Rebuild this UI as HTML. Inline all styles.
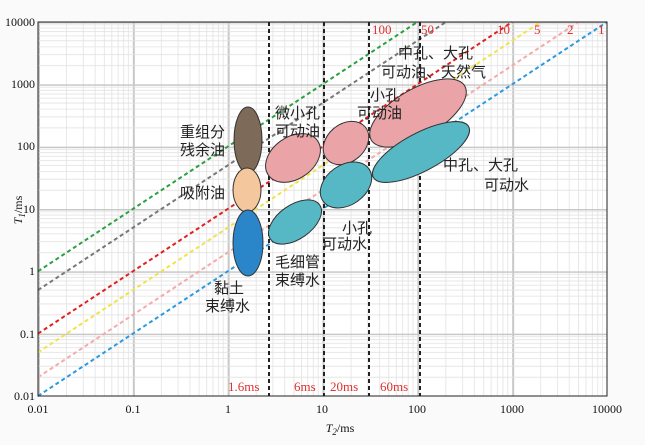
<!DOCTYPE html>
<html><head><meta charset="utf-8"><style>
body{margin:0;background:#fff}
svg{display:block;font-family:"Liberation Serif","Noto Serif CJK SC",serif}
.cj{font-family:"Liberation Sans","Noto Sans CJK SC",sans-serif;font-size:15px;fill:#222}
.tk{font-size:12px;fill:#111}
.rd{font-size:13px;fill:#e03030}
</style></head><body>
<svg width="645" height="445" viewBox="0 0 645 445">
<defs>
<pattern id="pv" patternUnits="userSpaceOnUse" x="38" y="0" width="94.833" height="445">
<g stroke="#e2e2e2" stroke-width="0.8">
<line x1="28.55" y1="0" x2="28.55" y2="445"/><line x1="45.25" y1="0" x2="45.25" y2="445"/>
<line x1="57.09" y1="0" x2="57.09" y2="445"/><line x1="66.29" y1="0" x2="66.29" y2="445"/>
<line x1="73.8" y1="0" x2="73.8" y2="445"/><line x1="80.14" y1="0" x2="80.14" y2="445"/>
<line x1="85.64" y1="0" x2="85.64" y2="445"/><line x1="90.49" y1="0" x2="90.49" y2="445"/>
</g>
<line x1="1" y1="0" x2="1" y2="445" stroke="#c8c8c8" stroke-width="2"/>
</pattern>
<pattern id="ph" patternUnits="userSpaceOnUse" x="0" y="22" width="645" height="62.333">
<g stroke="#e2e2e2" stroke-width="0.8">
<line x1="0" y1="2.85" x2="645" y2="2.85"/><line x1="0" y1="6.04" x2="645" y2="6.04"/>
<line x1="0" y1="9.65" x2="645" y2="9.65"/><line x1="0" y1="13.83" x2="645" y2="13.83"/>
<line x1="0" y1="18.76" x2="645" y2="18.76"/><line x1="0" y1="24.8" x2="645" y2="24.8"/>
<line x1="0" y1="32.59" x2="645" y2="32.59"/><line x1="0" y1="43.57" x2="645" y2="43.57"/>
</g>
<line x1="0" y1="0.5" x2="645" y2="0.5" stroke="#c8c8c8" stroke-width="2"/>
</pattern>
</defs>
<rect x="0" y="0" width="645" height="445" fill="#fafafa"/>
<rect x="38" y="22" width="569" height="374" fill="#fff"/>
<rect x="37" y="22" width="570" height="374" fill="url(#pv)"/>
<rect x="38" y="21.5" width="569" height="375" fill="url(#ph)"/>
<g stroke-width="2" stroke-dasharray="4,3">
<line x1="38" y1="396" x2="607" y2="22" stroke="#2a9ae0"/>
<line x1="38" y1="377.24" x2="578.45" y2="22" stroke="#f4aaaa"/>
<line x1="38" y1="352.43" x2="540.71" y2="22" stroke="#f2e24a"/>
<line x1="38" y1="333.67" x2="512.17" y2="22" stroke="#e02020"/>
<line x1="38" y1="290.1" x2="445.88" y2="22" stroke="#777"/>
<line x1="38" y1="271.33" x2="417.33" y2="22" stroke="#2aa040"/>
</g>
<g stroke="#222" stroke-width="2" stroke-dasharray="4,3">
<line x1="269" y1="22" x2="269" y2="396"/><line x1="324" y1="22" x2="324" y2="396"/>
<line x1="369" y1="22" x2="369" y2="396"/><line x1="420" y1="22" x2="420" y2="396"/>
</g>
<g stroke="#333" stroke-width="1">
<ellipse cx="248" cy="140" rx="14" ry="33" fill="#7d6a58"/>
<ellipse cx="247" cy="190" rx="14" ry="22" fill="#f4c89c"/>
<ellipse cx="248" cy="243" rx="15" ry="33" fill="#2a86c8"/>
<ellipse cx="293" cy="158" rx="30" ry="21" fill="#eaa4a8" transform="rotate(-35 293 158)"/>
<ellipse cx="346" cy="143" rx="25" ry="19" fill="#eaa4a8" transform="rotate(-40 346 143)"/>
<ellipse cx="418" cy="113" rx="54" ry="24" fill="#eaa4a8" transform="rotate(-30 418 113)"/>
<ellipse cx="295" cy="222" rx="30" ry="17" fill="#55b8c4" transform="rotate(-35 295 222)"/>
<ellipse cx="346" cy="185" rx="28" ry="20" fill="#55b8c4" transform="rotate(-35 346 185)"/>
<ellipse cx="421" cy="152" rx="54" ry="19" fill="#55b8c4" transform="rotate(-28 421 152)"/>
</g>
<rect x="38" y="22" width="569" height="374" fill="none" stroke="#222" stroke-width="1"/>
<g class="tk" text-anchor="end">
<text x="35" y="26">10000</text><text x="35" y="88">1000</text><text x="35" y="150">100</text>
<text x="35" y="213">10</text><text x="35" y="275">1</text><text x="35" y="338">0.1</text><text x="35" y="400">0.01</text>
</g>
<g class="tk" text-anchor="middle">
<text x="38" y="413">0.01</text><text x="133" y="413">0.1</text><text x="228" y="413">1</text>
<text x="322" y="413">10</text><text x="417" y="413">100</text><text x="512" y="413">1000</text><text x="607" y="413">10000</text>
</g>
<text x="340" y="432" class="tk" font-style="italic" text-anchor="middle">T<tspan font-size="9" dy="3">2</tspan><tspan font-style="normal" dy="-3">/ms</tspan></text>
<text transform="translate(22 210) rotate(-90)" class="tk" font-style="italic" text-anchor="middle">T<tspan font-size="9" dy="3">1</tspan><tspan font-style="normal" dy="-3">/ms</tspan></text>
<g class="rd">
<text x="372" y="34">100</text><text x="421" y="34">50</text><text x="497" y="34">10</text>
<text x="534" y="34">5</text><text x="567" y="34">2</text><text x="598" y="34">1</text>
<text x="228" y="391">1.6ms</text><text x="294" y="391">6ms</text><text x="330" y="391">20ms</text><text x="380" y="391">60ms</text>
</g>
<g class="cj">
<text x="180" y="137">重组分</text><text x="180" y="155">残余油</text>
<text x="180" y="198">吸附油</text>
<text x="275" y="118">微小孔</text><text x="275" y="136">可动油</text>
<text x="370" y="100">小孔</text><text x="357" y="118">可动油</text>
<text x="398" y="58">中孔、大孔</text><text x="381" y="77">可动油、天然气</text>
<text x="443" y="170">中孔、大孔</text><text x="484" y="190">可动水</text>
<text x="342" y="233">小孔</text><text x="322" y="249">可动水</text>
<text x="275" y="267">毛细管</text><text x="275" y="285">束缚水</text>
<text x="214" y="293">黏土</text><text x="205" y="311">束缚水</text>
</g>
</svg>
</body></html>
